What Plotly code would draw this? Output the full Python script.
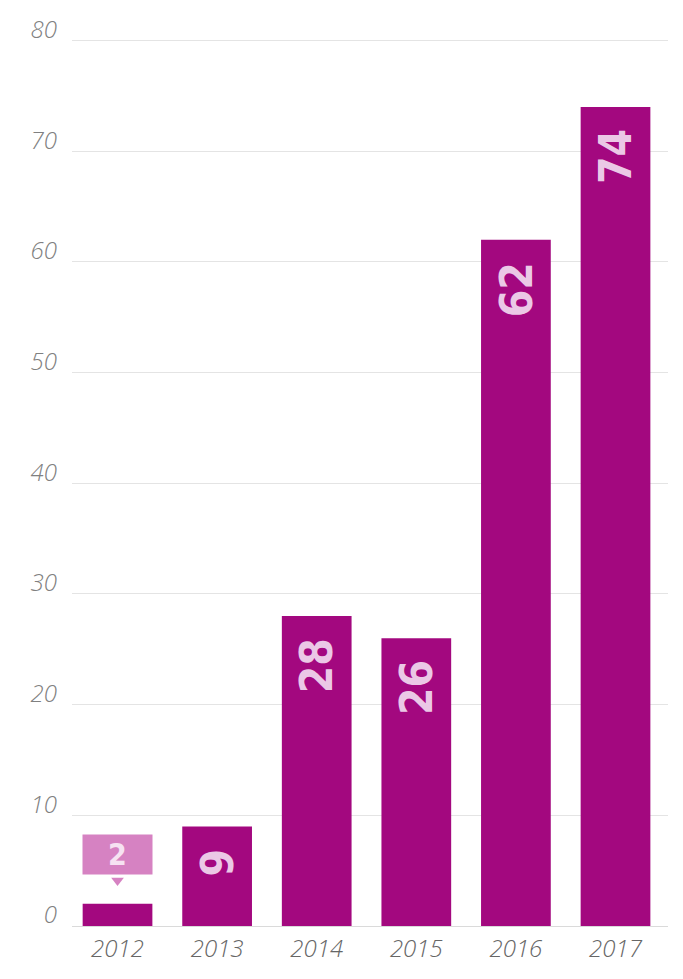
import plotly.graph_objects as go

years = ["2012", "2013", "2014", "2015", "2016", "2017"]
values = [2, 9, 28, 26, 62, 74]
labels = ["2", "9", "28", "26", "62", "74"]
y_ticks = [0, 10, 20, 30, 40, 50, 60, 70, 80]

BAR = "#A3087F"
LABEL = "#EBC8E6"
CALLOUT = "#D682C2"

fig = go.Figure()
fig.add_trace(go.Bar(
    x=years, y=values, marker=dict(color=BAR, line=dict(width=0)),
    hoverinfo="skip", showlegend=False,
))

# pointer of the callout for the first (small) bar
fig.add_trace(go.Scatter(
    x=[years[0]], y=[values[0] + 2.1], mode="markers",
    marker=dict(symbol="triangle-down", size=11, color=CALLOUT),
    hoverinfo="skip", showlegend=False,
))

LABEL_FAMILY = "DejaVu Sans Condensed, DejaVu Sans, sans-serif"

for i, (v, t) in enumerate(zip(values, labels)):
    if i == 0:
        fig.add_annotation(
            x=i, y=v + 4.5, xref="x", yref="y", text="<b>" + t + "</b>",
            showarrow=False,
            font=dict(family=LABEL_FAMILY, size=30, color="#F6E2F2"),
            bgcolor=CALLOUT, width=67, height=37,
        )
    else:
        fig.add_annotation(
            x=i, y=v, xref="x", yref="y", text="<b>" + t + "</b>",
            showarrow=False, textangle=-90, yanchor="top", yshift=-20,
            font=dict(family=LABEL_FAMILY, size=44, color=LABEL),
        )

fig.update_layout(
    width=675, height=971,
    margin=dict(l=64, r=15, t=26.5, b=53),
    paper_bgcolor="white", plot_bgcolor="white",
    bargap=0.30,
    xaxis=dict(
        type="category", range=[-0.457, 5.527], automargin=False,
        showgrid=False, showline=False, zeroline=False,
        ticks="", ticklabelstandoff=6,
        tickfont=dict(family="Open Sans, sans-serif", size=24, style="italic",
                      weight=300, color="#666666"),
    ),
    yaxis=dict(
        range=[0, 80.5], tickvals=y_ticks, ticktext=[str(v) for v in y_ticks],
        automargin=False,
        showgrid=True, gridcolor="#E4E4E4", gridwidth=1,
        zeroline=True, zerolinecolor="#DADADA", zerolinewidth=1,
        showline=False, ticks="",
        ticklabelstandoff=14, ticklabelshift=-11,
        tickfont=dict(family="Open Sans, sans-serif", size=24, style="italic",
                      weight=300, color="#808080"),
    ),
)

fig.write_html("out.html")
